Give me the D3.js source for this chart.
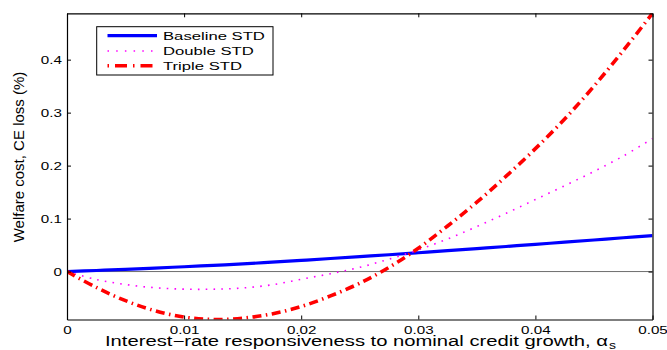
<!DOCTYPE html>
<html>
<head>
<meta charset="utf-8">
<script src="https://cdn.jsdelivr.net/npm/d3@7"></script>
<style>
  html, body { margin: 0; padding: 0; background: #fff; }
  svg { display: block; font-family: "Liberation Sans", Arial, Helvetica, sans-serif; }
</style>
</head>
<body>
<svg id="chart" width="667" height="350"></svg>
<script>
// Interest-rate responsiveness to nominal credit growth (alpha_s)
const alphaS = [0, 0.0025, 0.005, 0.0075, 0.01, 0.0125, 0.015, 0.0175, 0.02, 0.0225,
  0.025, 0.0275, 0.03, 0.0325, 0.035, 0.0375, 0.04, 0.0425, 0.045, 0.0475, 0.05];

// Welfare cost, CE loss (%), for each shock-volatility scenario
const baselineSTD = [0, 0.0020, 0.0042, 0.0066, 0.0091, 0.0117, 0.0144, 0.0177, 0.0211, 0.0246,
  0.0281, 0.0317, 0.0355, 0.0394, 0.0433, 0.0473, 0.0514, 0.0555, 0.0596, 0.0638, 0.068];
const doubleSTD = [0, -0.015, -0.0245, -0.0305, -0.0332, -0.0333, -0.031, -0.025, -0.0145, -0.004,
  0.008, 0.0235, 0.041, 0.0615, 0.085, 0.11, 0.136, 0.162, 0.189, 0.218, 0.251];
const tripleSTD = [0, -0.030, -0.055, -0.074, -0.086, -0.0905, -0.088, -0.080, -0.066, -0.046,
  -0.022, 0.008, 0.044, 0.086, 0.131, 0.180, 0.232, 0.288, 0.350, 0.417, 0.4875];

const seriesNames = ["Baseline STD", "Double STD", "Triple STD"];
const xTicks = [0, 0.01, 0.02, 0.03, 0.04, 0.05];
const yTicks = [0, 0.1, 0.2, 0.3, 0.4];

const series = [
  { name: seriesNames[0], values: baselineSTD, color: "#0000ff", width: 3.2, dash: null, legendDash: null },
  { name: seriesNames[1], values: doubleSTD, color: "#ff00ff", width: 1.6, dash: "1.6,6.2", legendDash: "1.5,7.2" },
  { name: seriesNames[2], values: tripleSTD, color: "#ff0000", width: 3.6, dash: "9,4.5,1.5,4.5", legendDash: "1.5,6,12,6" }
];

const svg = d3.select("#chart");
const plotLeft = 67, plotRight = 652.5, plotTop = 13.3, plotBottom = 319.5;
const textStretch = 1.52;

const x = d3.scaleLinear().domain([0, 0.05]).range([plotLeft, plotRight]);
const allValues = baselineSTD.concat(doubleSTD, tripleSTD);
const y = d3.scaleLinear().domain(d3.extent(allValues)).range([plotBottom, plotTop]);

svg.append("defs").append("clipPath").attr("id", "plotClip")
  .append("rect").attr("x", plotLeft).attr("y", plotTop)
  .attr("width", plotRight - plotLeft).attr("height", plotBottom - plotTop);

// zero reference line
svg.append("line")
  .attr("x1", plotLeft).attr("x2", plotRight)
  .attr("y1", y(0)).attr("y2", y(0))
  .attr("stroke", "#6e6e6e").attr("stroke-width", 1);

// curves
const line = d3.line()
  .x((d, i) => x(alphaS[i]))
  .y(d => y(d))
  .curve(d3.curveCatmullRom.alpha(0.5));

const plot = svg.append("g").attr("clip-path", "url(#plotClip)");
series.forEach(s => {
  plot.append("path")
    .datum(s.values)
    .attr("d", line)
    .attr("fill", "none")
    .attr("stroke", s.color)
    .attr("stroke-width", s.width)
    .attr("stroke-dasharray", s.dash)
    .attr("stroke-linejoin", "round");
});

// axes (ticks point inward, box on all four sides)
const fmtX = d => d === 0 ? "0" : d3.format(".2f")(d);
const fmtY = d => d === 0 ? "0" : d3.format(".1f")(d);

const axisStyle = g => {
  g.selectAll(".domain").attr("stroke", "#000").attr("stroke-width", 1.2);
  g.selectAll(".tick line").attr("stroke", "#000").attr("stroke-width", 1);
};

const gBottom = svg.append("g").attr("transform", `translate(0,${plotBottom})`)
  .call(d3.axisBottom(x).tickValues(xTicks).tickFormat(fmtX).tickSizeInner(-4).tickSizeOuter(0))
  .call(axisStyle);
gBottom.selectAll(".tick text")
  .attr("y", 0).attr("dy", 0)
  .attr("transform", `translate(0,14) scale(${textStretch},1)`)
  .attr("font-size", 10).attr("fill", "#000")
  .attr("font-family", "Liberation Sans, Arial, sans-serif");

svg.append("g").attr("transform", `translate(0,${plotTop})`)
  .call(d3.axisTop(x).tickValues(xTicks).tickFormat("").tickSizeInner(-4).tickSizeOuter(0))
  .call(axisStyle);

const gLeft = svg.append("g").attr("transform", `translate(${plotLeft},0)`)
  .call(d3.axisLeft(y).tickValues(yTicks).tickFormat(fmtY).tickSizeInner(-4).tickSizeOuter(0))
  .call(axisStyle);
gLeft.selectAll(".tick text")
  .attr("x", 0).attr("dy", "0.36em")
  .attr("transform", `translate(-5,0) scale(${textStretch},1)`)
  .attr("font-size", 10).attr("fill", "#000")
  .attr("font-family", "Liberation Sans, Arial, sans-serif");

svg.append("g").attr("transform", `translate(${plotRight},0)`)
  .call(d3.axisRight(y).tickValues(yTicks).tickFormat("").tickSizeInner(-4).tickSizeOuter(0))
  .call(axisStyle);

// axis titles
svg.append("text")
  .attr("x", 105).attr("y", 345.5)
  .attr("font-size", 14)
  .attr("textLength", 503).attr("lengthAdjust", "spacingAndGlyphs")
  .text("Interest\u2212rate responsiveness to nominal credit growth, \u03b1");
svg.append("text")
  .attr("transform", "translate(609,349) scale(1.4,1)")
  .attr("font-size", 10)
  .text("s");

svg.append("text")
  .attr("transform", "translate(24,157) rotate(-90)")
  .attr("text-anchor", "middle")
  .attr("font-size", 15)
  .text("Welfare cost, CE loss (%)");

// legend
const legend = svg.append("g");
legend.append("rect")
  .attr("x", 96.7).attr("y", 26.7).attr("width", 176.3).attr("height", 48.3)
  .attr("fill", "#fff").attr("stroke", "#000").attr("stroke-width", 1);
const rowY = [35.7, 51, 65.7];
series.forEach((s, i) => {
  legend.append("line")
    .attr("x1", 107.5).attr("x2", 157)
    .attr("y1", rowY[i]).attr("y2", rowY[i])
    .attr("stroke", s.color)
    .attr("stroke-width", s.width)
    .attr("stroke-dasharray", s.legendDash);
  legend.append("text")
    .attr("transform", `translate(163,${rowY[i] + 4.3}) scale(1.45,1)`)
    .attr("font-size", 11.5)
    .text(s.name);
});
</script>
</body>
</html>
